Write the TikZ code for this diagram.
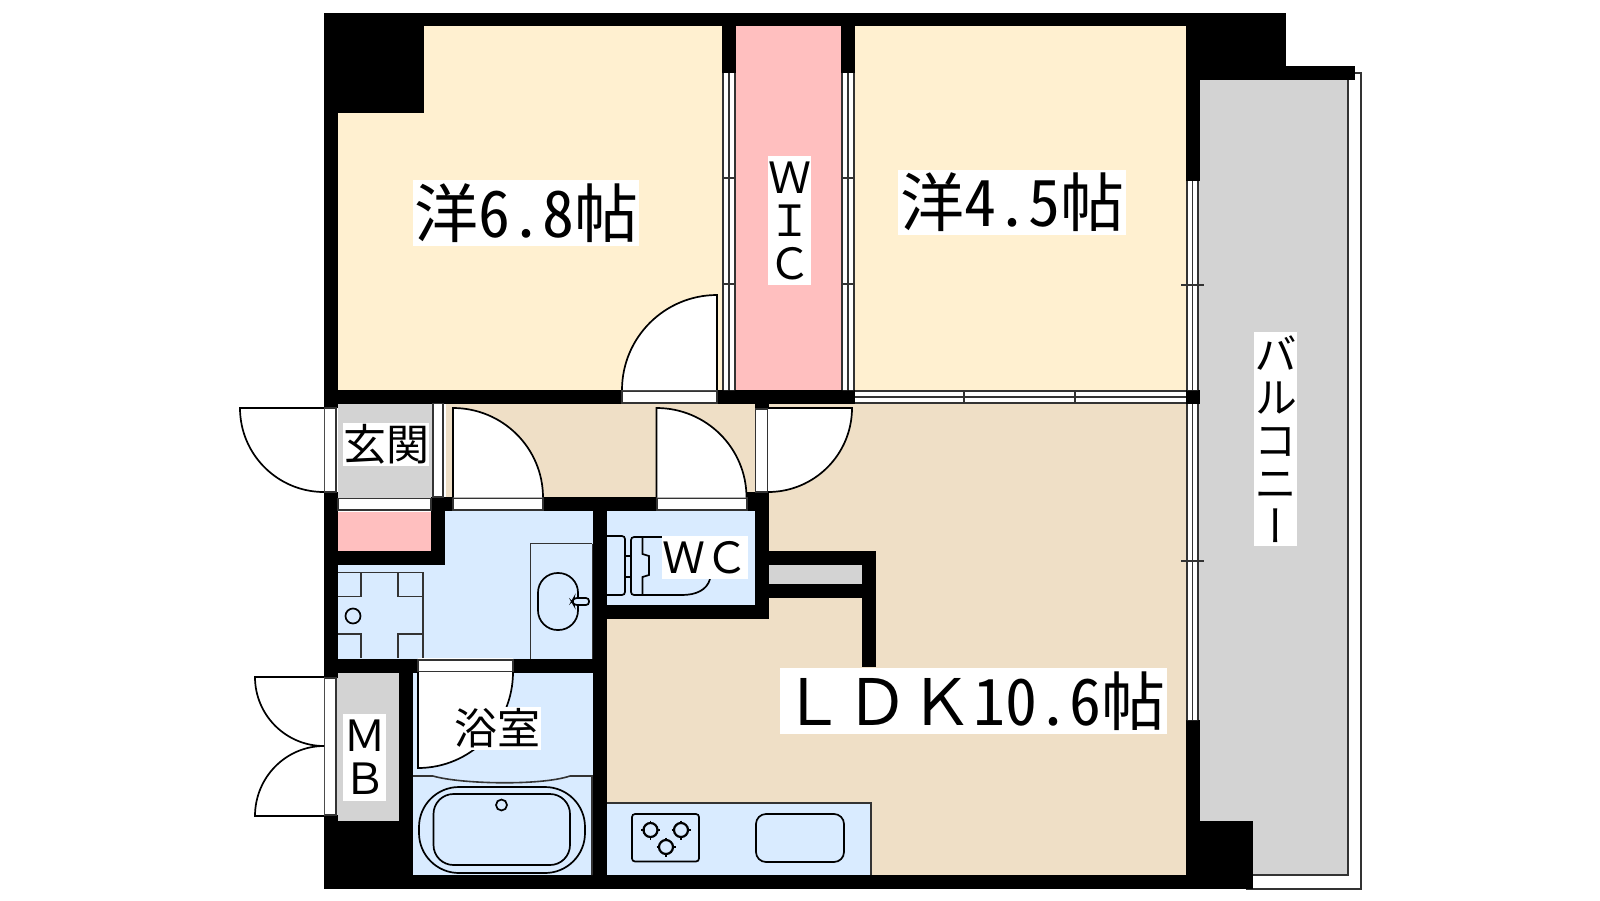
\documentclass[tikz,border=0pt]{standalone}
\usepackage{fontspec}
\newfontfamily\cjk[RawFeature=+hwid]{Noto Sans CJK JP}
\newfontfamily\cjkf{Noto Sans CJK JP}
\newfontfamily\cjkv[RawFeature=+vert]{Noto Sans CJK JP}
\definecolor{cream}{HTML}{FFF0D0}
\definecolor{pinkroom}{HTML}{FFBFBF}
\definecolor{beige}{HTML}{EFDFC6}
\definecolor{bluey}{HTML}{D9EBFF}
\definecolor{greyroom}{HTML}{D3D3D3}
\definecolor{framec}{HTML}{333333}
\tikzset{
  wall/.style={fill=black},
  thin line/.style={draw=framec,line width=.8pt},
  frame box/.style={fill=white,draw=framec,line width=.7pt},
  fix line/.style={draw=black,line width=.85pt},
  leafline/.style={draw=black,line width=.85pt},
  lab/.style={fill=white,inner sep=0pt,outer sep=0pt,align=center},
  big/.style={font=\cjk\fontsize{32}{32}\selectfont},
  small/.style={font=\cjkf\fontsize{21.5}{21.5}\selectfont},
}
\newcommand{\leaf}[6]{%
  \pgfmathsetmacro\pa{#3+0.5523*(#5-#1)}%
  \pgfmathsetmacro\pb{#4+0.5523*(#6-#2)}%
  \pgfmathsetmacro\pc{#5+0.5523*(#3-#1)}%
  \pgfmathsetmacro\pd{#6+0.5523*(#4-#2)}%
  \fill[white] (#1,#2) -- (#3,#4) .. controls (\pa,\pb) and (\pc,\pd) .. (#5,#6) -- cycle;
  \draw[leafline] (#1,#2) -- (#3,#4) .. controls (\pa,\pb) and (\pc,\pd) .. (#5,#6);
}
\newcommand{\burner}[2]{%
  \draw[leafline,line width=1.1pt] (#1,#2) circle[radius=7];
  \draw[leafline] (#1-9.5,#2) -- (#1-6,#2) (#1+6,#2) -- (#1+9.5,#2) (#1,#2-9.5) -- (#1,#2-6) (#1,#2+6) -- (#1,#2+9.5);
}
\begin{document}
\begin{tikzpicture}[x=.5pt,y=-.5pt]
\useasboundingbox (0,0) rectangle (1600,900);
\fill[white] (0,0) rectangle (1600,900);
% rooms
\fill[cream] (330,20) rectangle (730,395);
\fill[cream] (850,20) rectangle (1190,395);
\fill[pinkroom] (730,20) rectangle (850,395);
\fill[beige] (445,400) rectangle (760,505);
\fill[beige] (600,600) rectangle (1190,880);
\fill[beige] (750,400) rectangle (1190,610);
\fill[greyroom] (338,403.5) rectangle (432,498);
\fill[pinkroom] (338,511) rectangle (431,555);
\fill[bluey] (445,505) rectangle (600,600);
\fill[bluey] (338,560) rectangle (600,665);
\fill[bluey] (413,665) rectangle (600,880);
\fill[bluey] (600,505) rectangle (760,610);
\fill[greyroom] (335,670) rectangle (399,821);
\fill[greyroom] (769,565) rectangle (862,584);
\fill[greyroom] (1199,78) rectangle (1348,875);
% balcony edge
\draw[thin line,line width=.7pt] (1355,73) -- (1361,73) -- (1361,889) -- (1246,889);
\draw[thin line] (1348,80) -- (1348,875) -- (1253,875);
% walls
\fill[wall] (324,13) rectangle (1286,26);
\fill[wall] (324,13) rectangle (338,408);
\fill[wall] (324,492) rectangle (338,678);
\fill[wall] (324,815) rectangle (338,889);
\fill[wall] (324,13) rectangle (424,113);
\fill[wall] (1186,13) rectangle (1286,80);
\fill[wall] (1186,13) rectangle (1200,181);
\fill[wall] (1186,66) rectangle (1355,80);
\fill[wall] (722,13) rectangle (736,73);
\fill[wall] (841,13) rectangle (855,73);
\fill[wall] (324,390) rectangle (622,403.5);
\fill[wall] (717,390) rectangle (855,403.5);
\fill[wall] (1186,390) rectangle (1200,404);
\fill[wall] (755,403) rectangle (769,409);
\fill[wall] (431,497) rectangle (453,511);
\fill[wall] (543,497) rectangle (657,511);
\fill[wall] (747,492) rectangle (769,511);
\fill[wall] (431,497) rectangle (445,565);
\fill[wall] (324,551) rectangle (445,565);
\fill[wall] (593,497) rectangle (607,889);
\fill[wall] (755,492) rectangle (769,619);
\fill[wall] (593,605) rectangle (769,619);
\fill[wall] (769,551) rectangle (876,565);
\fill[wall] (769,584) rectangle (876,598);
\fill[wall] (862,551) rectangle (876,667);
\fill[wall] (324,659) rectangle (418,673);
\fill[wall] (513,659) rectangle (607,673);
\fill[wall] (399,659) rectangle (413,889);
\fill[wall] (324,821) rectangle (413,889);
\fill[wall] (324,875) rectangle (1253,889);
\fill[wall] (1186,720) rectangle (1200,889);
\fill[wall] (1186,821) rectangle (1253,889);
% white separators
\draw[white,line width=.5pt] (338,511) -- (431,511) (445,404) -- (445,497) (418,658.5) -- (513,658.5);
% closet and sliding doors
\path[fill=white] (723.5,73) rectangle (728.5,390) (729.5,73) rectangle (734.5,390) (842.5,73) rectangle (847.5,390) (848.5,73) rectangle (853.5,390);
\foreach \a in {723,729,735,842,848,854} \draw[thin line,line width=.7pt] (\a,73) -- (\a,390);
\foreach \b in {178,284} \draw[thin line,line width=.7pt] (722,\b) -- (736,\b) (841,\b) -- (855,\b);
\path[fill=white] (855,391) rectangle (1186,403);
\foreach \b in {391,397,403} \draw[thin line,line width=.7pt] (855,\b) -- (1186,\b);
\foreach \a in {964,1075} \draw[thin line,line width=.9pt] (\a,390.5) -- (\a,403.5);
\path[fill=white] (1187,181) rectangle (1198,390) (1187,404) rectangle (1198,720);
\foreach \a in {1187,1192.5,1198} \draw[thin line,line width=.7pt] (\a,181) -- (\a,390) (\a,404) -- (\a,720);
\foreach \b in {285,561} \draw[thin line,line width=.8pt] (1181,\b) -- (1204,\b);
% door frames
\path[frame box] (622,391) rectangle (717,403);
\path[frame box] (324.5,408) rectangle (336,492);
\path[frame box] (433,403.5) rectangle (443,497);
\path[frame box] (338,498.5) rectangle (431,510);
\path[frame box] (453,498) rectangle (543,510);
\path[frame box] (657,498) rectangle (747,510);
\path[frame box] (755.5,409) rectangle (768,492);
\path[frame box] (418,660) rectangle (513,671.5);
\path[frame box] (324.5,678) rectangle (336,815);
% door leaves
\leaf{717}{390}{717}{295}{622}{390}
\leaf{453}{497.5}{453}{408}{543}{497.5}
\leaf{656.5}{497.5}{656.5}{408}{746.5}{497.5}
\leaf{768}{408}{852}{408}{768}{492}
\leaf{324}{408}{240}{408}{324}{492}
\leaf{324}{677}{255}{677}{324}{746}
\leaf{324}{816}{255}{816}{324}{746}
\leaf{418}{672}{418}{768}{513}{672}
% washer pan
\draw[thin line] (338,572.5) -- (423,572.5) -- (423,658);
\draw[thin line] (338,596.5) -- (361,596.5) -- (361,572.5) (398,572.5) -- (398,596.5) -- (423,596.5);
\draw[thin line] (338,634) -- (361,634) -- (361,658) (398,658) -- (398,634) -- (423,634);
\draw[fix line] (353,616) circle[radius=7.5];
% vanity
\draw[thin line] (592,543.5) -- (530.5,543.5) -- (530.5,659);
\draw[thin line] (592.5,543.5) -- (592.5,659);
\draw[fix line,rounded corners=9.8pt] (538,573) rectangle (578,630);
\draw[fix line,fill=bluey,rounded corners=1.5pt] (589,598) -- (574,598) -- (572,601.5) -- (574,605) -- (589,605) -- cycle;
% toilet
\draw[fix line,rounded corners=1.5pt] (607,536) -- (625,536) -- (625,595) -- (607,595);
\draw[fix line] (625,556) -- (631,556) (625,577) -- (631,577);
\draw[fix line,rounded corners=1.5pt] (662,537) -- (631,537) -- (631,595) -- (682,595);
\draw[fix line] (682,595) .. controls (696,595) and (707,590) .. (710,579);
\draw[fix line] (642.5,537) -- (642.5,554) -- (649,556) -- (649,575) -- (642.5,577) -- (642.5,595);
% tub
\draw[thin line] (413,776) -- (433,776) .. controls (460,784) and (540,786) .. (570,776) -- (592,776) -- (592,875);
\draw[fix line,rounded corners=20pt] (419,787) rectangle (585,873);
\draw[fix line,rounded corners=10pt] (433.5,794) rectangle (570,865);
\draw[fix line] (501.5,805) circle[radius=5.5];
% kitchen
\fill[bluey] (607,803) rectangle (871,875);
\draw[thin line] (607,803) -- (871,803) -- (871,875);
\draw[fix line,rounded corners=1.5pt] (632,814) rectangle (699,861.5);
\burner{650.5}{830}
\burner{681}{830}
\burner{666}{847}
\draw[fix line,rounded corners=5pt] (756,814) rectangle (844,862);
% labels
\node[lab,big,minimum width=113pt,minimum height=33pt] (r68) at (526,213) {洋6.8帖};
\node[lab,big,minimum width=114pt,minimum height=32.5pt] (r45) at (1012,202.5) {洋4.5帖};
\node[lab,big,minimum width=193.5pt,minimum height=33pt] (ldk) at (973.5,701) {{\cjkf ＬＤＫ}10.6帖};
\node[lab,small,minimum width=21.5pt,minimum height=64.5pt] (wic) at (789.5,220.5) {Ｗ\\Ｉ\\Ｃ};
\node[lab,small,minimum width=43pt,minimum height=21.5pt] (gk) at (386,444.5) {玄関};
\node[lab,small,minimum width=43pt,minimum height=21.5pt] (wc) at (705,557.5) {ＷＣ};
\node[lab,small,minimum width=44pt,minimum height=21.5pt] (bath) at (497,728) {浴室};
\node[lab,small,minimum width=21.5pt,minimum height=43.5pt] (mb) at (364.5,757.5) {Ｍ\\Ｂ};
\node[lab,font=\cjkv\fontsize{21.5}{21.5}\selectfont,minimum width=21.5pt,minimum height=107pt] (bal) at (1275.5,439) {バ\\ル\\コ\\ニ\\ー};
\end{tikzpicture}
\end{document}
